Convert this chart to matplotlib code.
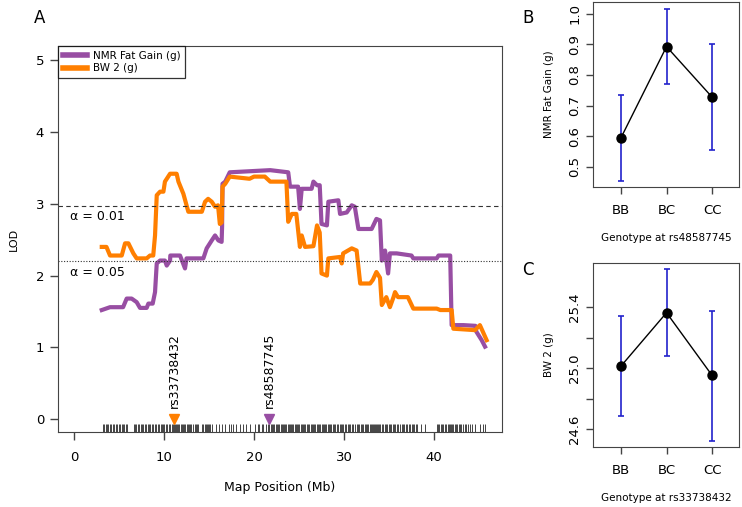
import matplotlib
matplotlib.use("Agg")
import matplotlib.pyplot as plt

plt.rcParams["font.family"] = ["DejaVu Sans"]

# LOD profile for NMR fat gain (Mb, LOD)
nmr_pos = [3.08, 4.0, 5.45, 5.85, 6.4, 6.96, 7.33, 8.07, 8.26, 8.74, 9.0, 9.19, 9.56, 10.1, 10.3,
           10.67, 10.7, 11.78, 12.33, 12.5, 14.37, 14.74, 15.3, 15.67, 16.04, 16.4, 16.45, 16.5, 16.8,
           17.3, 21.8, 23.8, 24.0, 24.9, 25.1, 25.3, 26.4, 26.6, 27.0, 27.3, 27.5, 28.1, 28.26, 29.37,
           29.56, 30.3, 30.86, 31.2, 31.6, 33.07, 33.6, 34.0, 34.2, 34.56, 34.9, 35.1, 35.85, 37.5,
           37.7, 40.3, 40.5, 41.8, 41.96, 43.26, 44.6, 44.7, 45.3, 45.67]
nmr_lod = [1.52, 1.56, 1.56, 1.68, 1.68, 1.63, 1.55, 1.55, 1.61, 1.61, 1.77, 2.17, 2.21, 2.21, 2.14,
           2.21, 2.28, 2.28, 2.10, 2.24, 2.24, 2.38, 2.49, 2.56, 2.49, 2.47, 2.68, 3.28, 3.31,
           3.44, 3.47, 3.44, 3.24, 3.24, 2.93, 3.21, 3.21, 3.31, 3.26, 3.26, 2.72, 2.70, 3.03, 3.05,
           2.86, 2.88, 2.98, 2.96, 2.65, 2.65, 2.79, 2.77, 2.21, 2.35, 2.03, 2.31, 2.31, 2.28,
           2.24, 2.24, 2.28, 2.28, 1.31, 1.31, 1.30, 1.22, 1.10, 1.01]

# LOD profile for body weight at 2 weeks
bw_pos = [3.08, 3.6, 4.0, 5.3, 5.67, 6.04, 6.59, 6.96, 8.07, 8.44, 8.8, 9.0, 9.19, 9.56, 9.93,
          10.1, 10.67, 11.4, 11.6, 12.15, 12.7, 14.2, 14.56, 14.9, 15.3, 15.67, 16.0, 16.2, 16.4,
          16.5, 16.8, 17.3, 19.5, 20.0, 21.2, 21.8, 23.6, 23.8, 24.2, 24.7, 25.1, 25.3, 25.67, 26.6,
          27.0, 27.3, 27.5, 28.1, 28.26, 29.56, 29.75, 29.9, 30.86, 31.4, 31.8, 32.9, 33.2, 33.6,
          34.0, 34.2, 34.7, 35.1, 35.5, 35.67, 36.0, 37.1, 37.7, 40.3, 40.7, 41.96, 42.15, 44.55,
          45.1, 45.67, 45.85]
bw_lod = [2.40, 2.40, 2.28, 2.28, 2.45, 2.45, 2.31, 2.24, 2.24, 2.28, 2.28, 2.56, 3.12, 3.17, 3.17,
          3.31, 3.42, 3.42, 3.31, 3.14, 2.89, 2.89, 3.03, 3.07, 3.03, 2.96, 2.98, 2.72, 2.74,
          3.24, 3.28, 3.38, 3.35, 3.38, 3.38, 3.31, 3.31, 2.75, 2.86, 2.86, 2.40, 2.56, 2.40, 2.41,
          2.70, 2.60, 2.03, 2.00, 2.24, 2.26, 2.17, 2.31, 2.38, 2.35, 1.89, 1.89, 1.94, 2.05,
          1.97, 1.59, 1.70, 1.56, 1.70, 1.77, 1.70, 1.70, 1.54, 1.54, 1.52, 1.52, 1.26, 1.24,
          1.31, 1.15, 1.10]

# marker positions (Mb)
markers = [3.20, 3.35, 3.52, 3.66, 3.81, 3.98, 4.12, 4.30, 4.44, 4.61, 4.77, 4.95, 5.10, 5.28, 5.45,
           5.60, 5.78, 5.93, 6.62, 6.80, 6.93, 7.10, 7.24, 7.41, 7.55, 7.70, 7.88, 8.02, 8.20, 8.31,
           8.47, 8.66, 8.80, 8.95, 9.12, 9.30, 9.44, 9.61, 9.78, 9.90, 10.05, 10.22, 10.38, 10.51,
           10.70, 10.84, 10.97, 11.10, 11.21, 11.33, 11.46, 11.58, 11.70, 11.83, 11.95, 12.10, 12.21,
           12.36, 12.50, 12.62, 12.80, 12.93, 13.05, 13.22, 13.40, 13.55, 13.70, 13.82, 14.20, 14.35,
           14.50, 14.62, 14.75, 14.90, 15.02, 15.15, 15.30, 15.80, 16.10, 16.45, 16.80, 17.20, 17.45,
           17.70, 18.00, 18.40, 18.75, 19.10, 19.55, 20.10, 20.40, 20.60, 20.85, 21.05, 21.30, 21.55,
           21.70, 21.85, 22.00, 22.12, 22.25, 22.40, 22.55, 22.68, 22.80, 22.95, 23.08, 23.20, 23.35,
           23.48, 23.60, 23.72, 23.85, 23.98, 24.10, 24.22, 24.35, 24.50, 24.62, 24.75, 24.90, 25.05,
           25.18, 25.30, 25.45, 25.60, 25.72, 25.85, 26.00, 26.15, 26.28, 26.40, 26.55, 26.70, 26.82,
           26.95, 27.10, 27.25, 27.38, 27.50, 27.62, 27.75, 27.90, 28.05, 28.20, 28.32, 28.45, 28.60,
           28.75, 28.90, 29.05, 29.20, 29.35, 29.50, 29.65, 29.80, 29.92, 30.10, 30.25, 30.40, 30.55,
           30.72, 30.90, 31.05, 31.22, 31.40, 31.55, 31.70, 31.85, 32.00, 32.15, 32.30, 32.45, 32.60,
           32.72, 32.85, 32.98, 33.10, 33.22, 33.35, 33.45, 33.55, 33.65, 33.78, 33.90, 34.05, 34.20,
           34.35, 34.50, 34.65, 34.80, 34.95, 35.10, 35.25, 35.40, 35.55, 35.72, 35.90, 36.05, 36.22,
           36.40, 36.55, 36.72, 36.90, 37.05, 37.20, 37.35, 37.50, 37.65, 37.80, 37.95, 38.15, 38.55,
           39.05, 40.30, 40.45, 40.60, 40.75, 40.90, 41.05, 41.20, 41.35, 41.50, 41.62, 41.75, 41.88,
           42.00, 42.15, 42.30, 42.45, 42.60, 42.75, 42.90, 43.05, 43.20, 43.40, 43.60, 43.80, 44.00,
           44.25, 44.50, 45.10, 45.40, 45.70]

thr_01 = 2.97
thr_05 = 2.20
peak_snps = ["rs33738432", "rs48587745"]
peak_pos = [11.1, 21.7]

genotypes = ["BB", "BC", "CC"]
nmr_mean = [0.595, 0.893, 0.728]
nmr_lo = [0.455, 0.770, 0.555]
nmr_hi = [0.735, 1.015, 0.900]
bw_mean = [25.013, 25.363, 24.952]
bw_lo = [24.685, 25.079, 24.523]
bw_hi = [25.340, 25.647, 25.374]

purple = "#984EA3"
orange = "#FF7F00"
frame = "#444444"

fig = plt.figure(figsize=(7.42, 5.07), dpi=100)

# ---- panel A ----
ax = fig.add_axes([0.0782, 0.1479, 0.5984, 0.7613])
ax.plot(nmr_pos, nmr_lod, color=purple, lw=3, solid_joinstyle="round", label="NMR Fat Gain (g)")
ax.plot(bw_pos, bw_lod, color=orange, lw=3, solid_joinstyle="round", label="BW 2 (g)")
ax.axhline(thr_01, color="#333333", ls=(0, (4, 3)), lw=0.8)
ax.axhline(thr_05, color="#333333", ls=(0, (1, 1.5)), lw=0.8)
ax.text(-0.45, thr_01 - 0.06, "\u03b1 = 0.01", fontsize=9, va="top", ha="left")
ax.text(-0.45, thr_05 - 0.06, "\u03b1 = 0.05", fontsize=9, va="top", ha="left")

ax.vlines(markers, 0, 0.021, transform=ax.get_xaxis_transform(), color="black", lw=0.6, alpha=0.85)
for name, pos, col in zip(peak_snps, peak_pos, [orange, purple]):
    ax.plot(pos, 0, marker="v", color=col, ms=7, ls="none", clip_on=False)
    ax.text(pos, 0.16, name, rotation=90, ha="center", va="bottom", fontsize=9)

ax.set_xlim(-1.78, 47.56)
ax.set_ylim(-0.18, 5.2)
ax.set_xticks([0, 10, 20, 30, 40])
ax.set_yticks([0, 1, 2, 3, 4, 5])
ax.tick_params(direction="out", length=6, width=1, color=frame, labelsize=9.5, pad=4)
ax.tick_params(axis="x", pad=8)
for s in ax.spines.values():
    s.set_color(frame)
ax.set_xlabel("Map Position (Mb)", fontsize=9, labelpad=12)
ax.set_ylabel("LOD", fontsize=8, labelpad=12)
leg = ax.legend(loc="upper left", borderaxespad=0, fontsize=7.5, fancybox=False,
                handlelength=2.3, handletextpad=0.6, labelspacing=0.25, borderpad=0.45)
leg.get_frame().set_edgecolor("black")
leg.get_frame().set_linewidth(0.9)
for h in leg.get_lines():
    h.set_linewidth(4)

# ---- panels B and C ----
def effect_panel(rect, mean, lo, hi, ylim, ticks, labels, ylabel, xlabel):
    a = fig.add_axes(rect)
    x = [1, 2, 3]
    for xi, l, h in zip(x, lo, hi):
        a.errorbar(xi, (l + h) / 2, yerr=(h - l) / 2, color="#2222CC", lw=1.2, capsize=2.5,
                   capthick=1.2, fmt="none")
    a.plot(x, mean, color="black", lw=1, marker="o", ms=6.5)
    a.set_xlim(0.385, 3.593)
    a.set_ylim(*ylim)
    a.set_xticks(x)
    a.set_xticklabels(genotypes, fontsize=9.5)
    a.set_yticks(ticks)
    a.set_yticklabels(labels, rotation=90, va="center", fontsize=9.5)
    a.tick_params(direction="out", length=5, width=1, color=frame)
    a.tick_params(axis="x", pad=7)
    for s in a.spines.values():
        s.set_color(frame)
    a.set_ylabel(ylabel, fontsize=7.5, labelpad=10)
    a.set_xlabel(xlabel, fontsize=7.5, labelpad=12)
    return a

effect_panel([0.7992, 0.6312, 0.1968, 0.3649], nmr_mean, nmr_lo, nmr_hi, (0.434, 1.039),
             [0.5, 0.6, 0.7, 0.8, 0.9, 1.0], ["0.5", "0.6", "0.7", "0.8", "0.9", "1.0"],
             "NMR Fat Gain (g)", "Genotype at " + peak_snps[1])
effect_panel([0.7992, 0.1183, 0.1968, 0.3629], bw_mean, bw_lo, bw_hi, (24.482, 25.689),
             [24.6, 24.8, 25.0, 25.2, 25.4], ["24.6", "", "25.0", "", "25.4"],
             "BW 2 (g)", "Genotype at " + peak_snps[0])

fig.text(40 / 742, 1 - 18 / 507, "A", fontsize=12, ha="center", va="center")
fig.text(528 / 742, 1 - 18 / 507, "B", fontsize=12, ha="center", va="center")
fig.text(528 / 742, 1 - 270 / 507, "C", fontsize=12, ha="center", va="center")

fig.savefig("out.png", dpi=100)
